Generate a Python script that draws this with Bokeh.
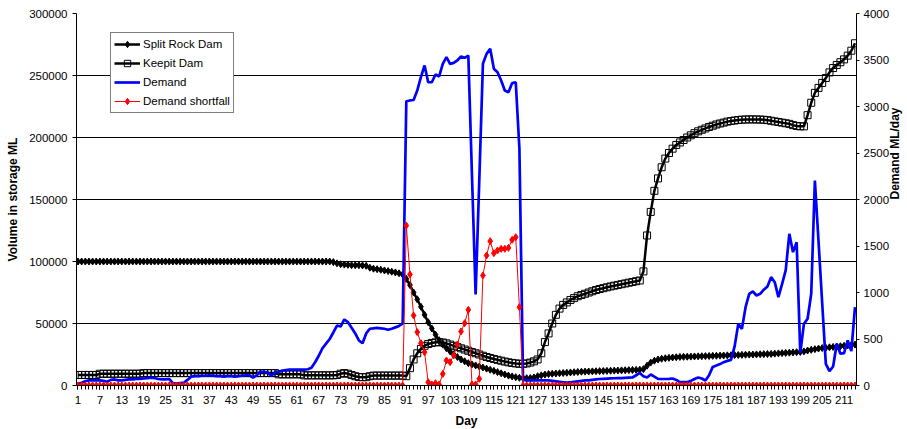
import math
from bokeh.plotting import figure
from bokeh.models import Range1d, LinearAxis, FixedTicker, Legend, LegendItem, BasicTickFormatter
from bokeh.embed import file_html
from bokeh.resources import INLINE

days = list(range(1, 215))

split_rock = [
    100000, 100000, 100000, 100000, 100000, 100000, 100000, 100000, 100000, 100000,
    100000, 100000, 100000, 100000, 100000, 100000, 100000, 100000, 100000, 100000,
    100000, 100000, 100000, 100000, 100000, 100000, 100000, 100000, 100000, 100000,
    100000, 100000, 100000, 100000, 100000, 100000, 100000, 100000, 100000, 100000,
    100000, 100000, 100000, 100000, 100000, 100000, 100000, 100000, 100000, 100000,
    100000, 100000, 100000, 100000, 100000, 100000, 100000, 100000, 100000, 100000,
    100000, 100000, 100000, 100000, 100000, 100000, 100000, 100000, 100000, 100000,
    99500, 98500, 97800, 97500, 97300, 97000, 97000, 97000, 96800, 96500,
    95000, 94200, 93800, 93300, 92800, 92300, 91800, 91200, 90500, 89500,
    86000, 81000, 75000, 69500, 63500, 57000, 51000, 46000, 41000, 36500,
    33000, 30000, 27500, 25000, 23000, 21000, 19500, 18000, 17000, 16200,
    15300, 14500, 13600, 12700, 11800, 10800, 9800, 8900, 8000, 7300,
    6700, 6200, 6000, 5900, 6000, 6500, 7500, 8200, 8800, 9200,
    9500, 9700, 9900, 10100, 10300, 10500, 10700, 10900, 11100, 11200,
    11300, 11400, 11500, 11600, 11700, 11800, 11900, 12000, 12100, 12200,
    12300, 12400, 12500, 12600, 12800, 13200, 16000, 18500, 20000, 21000,
    21600, 22000, 22300, 22600, 22800, 23000, 23100, 23200, 23300, 23400,
    23500, 23600, 23700, 23800, 23900, 24000, 24100, 24200, 24300, 24400,
    24500, 24600, 24700, 24800, 24900, 25000, 25100, 25200, 25300, 25400,
    25500, 25700, 25900, 26100, 26300, 26500, 26700, 26900, 27100, 27500,
    28200, 28800, 29300, 29800, 30200, 30500, 30800, 31100, 31400, 31700,
    32000, 32300, 32600, 33000,
]

keepit = [
    8500, 8500, 8500, 8500, 8500, 8500, 9500, 9500, 9500, 9500,
    9500, 9500, 9500, 9500, 9500, 9500, 9500, 9500, 10000, 10000,
    10000, 10000, 10000, 10000, 10000, 10000, 10000, 10000, 10000, 10000,
    10000, 10000, 10000, 10000, 10000, 10000, 10000, 10000, 10000, 10000,
    10000, 10000, 10000, 10000, 10000, 10000, 10000, 10000, 10000, 10000,
    10000, 10000, 10000, 10000, 10000, 9000, 9000, 9000, 9000, 9000,
    9000, 9000, 8200, 8200, 8200, 8200, 8200, 8200, 8200, 8200,
    8200, 8500, 9500, 10000, 9500, 8500, 7500, 6800, 6700, 6700,
    7500, 8000, 8000, 8000, 8000, 8000, 8000, 8000, 8000, 8000,
    7500, 14000, 21000, 26000, 29500, 32000, 33500, 34300, 34800, 35000,
    34700, 34000, 33000, 32000, 31000, 30000, 29000, 28000, 27000, 26000,
    25000, 24000, 23000, 22200, 21400, 20700, 20000, 19300, 18700, 18200,
    17800, 17500, 17500, 17800, 18500, 19500, 21000, 26000, 35000, 42000,
    50000, 57000, 62000, 65000, 67000, 69000, 70500, 72000, 73000, 74000,
    75000, 76000, 77000, 77800, 78500, 79200, 79900, 80500, 81100, 81700,
    82300, 82900, 83500, 84100, 84700, 92000, 121000, 140000, 157000, 167000,
    176000, 183000, 187500, 191000, 194000, 196000, 198000, 200000, 201800, 203500,
    205000, 206200, 207300, 208500, 209500, 210500, 211300, 212000, 212800, 213300,
    213700, 214100, 214400, 214500, 214600, 214600, 214500, 214500, 214300, 214000,
    213500, 213000, 212500, 212000, 211500, 211000, 210000, 209300, 209000, 209000,
    218000, 228000, 236000, 240000, 244000, 248000, 252500, 256000, 258500, 260700,
    263000, 266000, 270000, 276000,
]

demand = [
    15, 30, 45, 55, 55, 55, 55, 50, 40, 60,
    65, 55, 55, 60, 65, 65, 70, 70, 75, 80,
    85, 80, 70, 65, 65, 70, 25, 20, 25, 30,
    60, 95, 100, 100, 105, 105, 110, 105, 100, 100,
    95, 100, 100, 95, 100, 105, 110, 110, 85, 110,
    150, 145, 140, 105, 140, 145, 160, 165, 170, 170,
    170, 170, 170, 175, 190, 250, 320, 400, 450, 500,
    570, 645, 634, 710, 681, 620, 560, 484, 455, 560,
    610, 615, 620, 615, 610, 600, 610, 625, 640, 665,
    3057, 3065, 3070, 3172, 3315, 3441, 3261, 3261, 3344, 3323,
    3459, 3530, 3458, 3469, 3495, 3538, 3523, 3548, 2260, 980,
    2200, 3460, 3566, 3620, 3405, 3369, 3280, 3172, 3154, 3251,
    3261, 2550, 60, 55, 55, 55, 55, 55, 55, 55,
    50, 45, 40, 35, 30, 35, 40, 45, 50, 55,
    55, 60, 65, 70, 72, 74, 76, 78, 79, 80,
    82, 84, 86, 110, 135, 100, 86, 118, 95, 72,
    70, 70, 72, 75, 60, 36, 36, 36, 50, 70,
    86, 75, 54, 110, 200, 215, 230, 251, 265, 276,
    420, 663, 609, 842, 986, 1011, 968, 986, 1030, 1065,
    1165, 1111, 950, 1090, 1237, 1631, 1434, 1541, 348, 663,
    717, 986, 2204, 1550, 890, 233, 154, 204, 448, 341,
    348, 484, 369, 842,
]

shortfall = [
    0, 0, 0, 0, 0, 0, 0, 0, 0, 0,
    0, 0, 0, 0, 0, 0, 0, 0, 0, 0,
    0, 0, 0, 0, 0, 0, 0, 0, 0, 0,
    0, 0, 0, 0, 0, 0, 0, 0, 0, 0,
    0, 0, 0, 0, 0, 0, 0, 0, 0, 0,
    0, 0, 0, 0, 0, 0, 0, 0, 0, 0,
    0, 0, 0, 0, 0, 0, 0, 0, 0, 0,
    0, 0, 0, 0, 0, 0, 0, 0, 0, 0,
    0, 0, 0, 0, 0, 0, 0, 0, 0, 0,
    1720, 1194, 753, 574, 455, 358, 36, 11, 25, 11,
    125, 269, 251, 323, 441, 581, 670, 814, 11, 11,
    72, 1183, 1398, 1552, 1423, 1452, 1470, 1470, 1480, 1566,
    1595, 842, 0, 0, 0, 0, 0, 0, 0, 0,
    0, 0, 0, 0, 0, 0, 0, 0, 0, 0,
    0, 0, 0, 0, 0, 0, 0, 0, 0, 0,
    0, 0, 0, 0, 0, 0, 0, 0, 0, 0,
    0, 0, 0, 0, 0, 0, 0, 0, 0, 0,
    0, 0, 0, 0, 0, 0, 0, 0, 0, 0,
    0, 0, 0, 0, 0, 0, 0, 0, 0, 0,
    0, 0, 0, 0, 0, 0, 0, 0, 0, 0,
    0, 0, 0, 0, 0, 0, 0, 0, 0, 0,
    0, 0, 0, 0,
]

x_labels = list(range(1, 215, 6))
left_ticks = [0, 50000, 100000, 150000, 200000, 250000, 300000]
right_ticks = [0, 500, 1000, 1500, 2000, 2500, 3000, 3500, 4000]

FONT = "Liberation Sans"

p = figure(frame_width=780, frame_height=372, output_backend="svg", toolbar_location=None,
           x_range=Range1d(0.589, 214.41), y_range=Range1d(0, 300000),
           min_border_left=76, min_border_right=51, min_border_top=13, min_border_bottom=44)
p.extra_y_ranges = {"right": Range1d(0, 4000)}
p.outline_line_color = None
p.background_fill_color = "white"
p.border_fill_color = "white"

p.xgrid.visible = False
p.ygrid.ticker = FixedTicker(ticks=left_ticks)
p.ygrid.grid_line_color = "black"
p.ygrid.grid_line_width = 1

# x axis
xa = p.xaxis[0]
xa.ticker = FixedTicker(ticks=x_labels, minor_ticks=days)
xa.axis_label = "Day"
# left axis
ya = p.yaxis[0]
ya.ticker = FixedTicker(ticks=left_ticks)
ya.formatter = BasicTickFormatter(use_scientific=False)
ya.axis_label = "Volume in storage ML"

ra = LinearAxis(y_range_name="right", ticker=FixedTicker(ticks=right_ticks),
                formatter=BasicTickFormatter(use_scientific=False),
                axis_label="Demand ML/day")
p.add_layout(ra, "right")

for ax in (xa, ya, ra):
    ax.axis_line_color = "black"
    ax.axis_line_width = 1
    ax.major_tick_line_color = "black"
    ax.minor_tick_line_color = "black"
    ax.major_tick_in = 0
    ax.minor_tick_in = 0
    ax.major_tick_out = 4
    ax.minor_tick_out = 0
    ax.major_label_text_font = FONT
    ax.major_label_text_font_size = "11.5px"
    ax.major_label_text_color = "black"
    ax.axis_label_text_font = FONT
    ax.axis_label_text_font_size = "12px"
    ax.axis_label_text_font_style = "bold"
    ax.axis_label_text_color = "black"

xa.minor_tick_out = 4
xa.major_label_standoff = 6
xa.axis_label_standoff = 7
ya.major_label_standoff = 5
ya.axis_label_standoff = 6
ra.major_tick_out = 3
ra.major_label_standoff = 4
ra.axis_label_standoff = 3
# make the right axis title read bottom-to-top, as in the reference
try:
    ra.axis_label_orientation = math.pi / 2
except Exception:
    pass

sr_line = p.line(days, split_rock, line_color="black", line_width=2.5)
sr_pts = p.scatter(days, split_rock, marker="diamond", size=7, fill_color="black", line_color="black")
kp_line = p.line(days, keepit, line_color="black", line_width=2.5)
kp_pts = p.scatter(days, keepit, marker="square", size=7, fill_color=None, line_color="black", line_width=1)
dm_line = p.line(days, demand, line_color="#0000FF", line_width=2.7, y_range_name="right")
sf_line = p.line(days, shortfall, line_color="#FF0000", line_width=1, y_range_name="right")
sf_pts = p.scatter(days, shortfall, marker="diamond", size=7, fill_color="#FF0000",
                   line_color="#FF0000", y_range_name="right")

legend = Legend(items=[
    LegendItem(label="Split Rock Dam", renderers=[sr_line, sr_pts]),
    LegendItem(label="Keepit Dam", renderers=[kp_line, kp_pts]),
    LegendItem(label="Demand", renderers=[dm_line]),
    LegendItem(label="Demand shortfall", renderers=[sf_line, sf_pts]),
], location=(34, 272))
legend.border_line_color = "black"
legend.border_line_width = 1
legend.background_fill_color = "white"
legend.background_fill_alpha = 1
legend.label_text_font = FONT
legend.label_text_font_size = "11.5px"
legend.label_text_color = "black"
legend.glyph_width = 26
legend.glyph_height = 16
legend.label_height = 16
legend.spacing = 3
legend.padding = 3
legend.margin = 0
legend.label_standoff = 3
p.add_layout(legend)

open("out.html", "w").write(file_html(p, INLINE))
